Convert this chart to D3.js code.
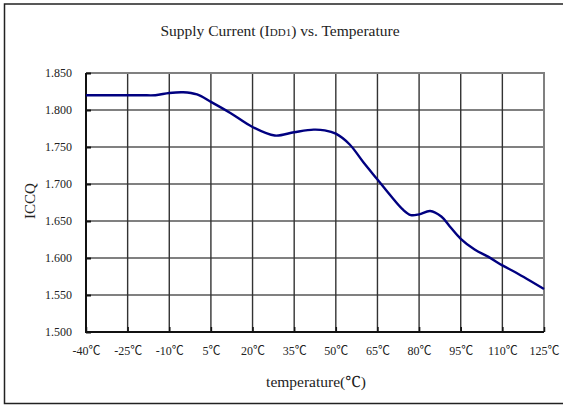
<!DOCTYPE html>
<html>
<head>
<meta charset="utf-8">
<script src="https://cdn.jsdelivr.net/npm/d3@7"></script>
<style>
    body { margin: 0; background: #fff; }
    text { font-family: "Liberation Serif", "Noto Serif", "Noto Sans CJK TC", serif; fill: #222; }
</style>
</head>
<body>
<svg id="mainSvg" width="563" height="406"></svg>
<script>
// data
let temps = [-40, -30, -20, -15, -10, -5, 0, 5, 12, 20, 28, 35, 42, 46, 50, 55, 60, 65, 70, 74, 77, 80, 84, 88, 91, 95, 100, 105, 110, 115, 125];
let iccq = [1.820, 1.820, 1.820, 1.820, 1.823, 1.824, 1.821, 1.811, 1.796, 1.777, 1.7655, 1.770, 1.7735, 1.7725, 1.768, 1.7534, 1.729, 1.706, 1.683, 1.666, 1.658, 1.659, 1.6635, 1.656, 1.643, 1.626, 1.6115, 1.6015, 1.590, 1.580, 1.558];
let xTicks = [-40, -25, -10, 5, 20, 35, 50, 65, 80, 95, 110, 125];
let yTicks = [1.5, 1.55, 1.6, 1.65, 1.7, 1.75, 1.8, 1.85];

let svg = d3.select("#mainSvg");

let plotLeft = 86, plotRight = 544, plotTop = 73, plotBottom = 332;

let x = d3.scaleLinear().domain([-40, 125]).range([plotLeft, plotRight]);
let y = d3.scaleLinear().domain([1.5, 1.85]).range([plotBottom, plotTop]);

// outer frame (right side falls off the picture)
svg.append("path")
    .attr("d", "M565,4 H4.5 V403.5 H565")
    .attr("fill", "none")
    .attr("stroke", "#222")
    .attr("stroke-width", 1.5);

// grid
let grid = svg.append("g");
grid.selectAll(".hg")
    .data(yTicks)
    .join("line")
    .attr("x1", plotLeft).attr("x2", plotRight)
    .attr("y1", (d) => y(d)).attr("y2", (d) => y(d))
    .attr("stroke", "#808080")
    .attr("stroke-width", 1.8);
grid.selectAll(".vg")
    .data(xTicks)
    .join("line")
    .attr("x1", (d) => x(d)).attr("x2", (d) => x(d))
    .attr("y1", plotTop).attr("y2", plotBottom)
    .attr("stroke", "#333")
    .attr("stroke-width", 1.4);

// plot border: top/right gray, left/bottom black
svg.append("path")
    .attr("d", `M${plotLeft},${plotTop} H${plotRight} V${plotBottom}`)
    .attr("fill", "none").attr("stroke", "#808080").attr("stroke-width", 2);
svg.append("path")
    .attr("d", `M${plotLeft},${plotTop} V${plotBottom} H${plotRight}`)
    .attr("fill", "none").attr("stroke", "#111").attr("stroke-width", 2);

// axes with inward ticks
let yAxis = d3.axisLeft(y).tickValues(yTicks).tickSize(-5).tickPadding(14)
    .tickFormat(d3.format(".3f"));
let gy = svg.append("g").attr("transform", `translate(${plotLeft},0)`).call(yAxis);
gy.select(".domain").remove();
gy.selectAll("line").attr("stroke", "#111").attr("stroke-width", 2);
gy.selectAll("text").attr("font-size", 12).attr("fill", "#333")
    .style("font-family", '"Liberation Serif", serif');

let xAxis = d3.axisBottom(x).tickValues(xTicks).tickSize(-5).tickPadding(14)
    .tickFormat((d) => d + "℃");
let gx = svg.append("g").attr("transform", `translate(0,${plotBottom})`).call(xAxis);
gx.select(".domain").remove();
gx.selectAll("line").attr("stroke", "#111").attr("stroke-width", 1.5);
gx.selectAll("text").attr("font-size", 12).attr("fill", "#333")
    .style("font-family", '"Liberation Serif", "Noto Sans CJK TC", serif');

// the curve
let line = d3.line()
    .x((d, i) => x(temps[i]))
    .y((d) => y(d))
    .curve(d3.curveCatmullRom.alpha(0.5));
svg.append("path")
    .datum(iccq)
    .attr("d", line)
    .attr("fill", "none")
    .attr("stroke", "#000080")
    .attr("stroke-width", 2.4);

// title
let title = svg.append("text")
    .attr("x", 280).attr("y", 36)
    .attr("text-anchor", "middle")
    .attr("font-size", 15.5);
title.append("tspan").text("Supply Current (I");
title.append("tspan").attr("font-size", 11).text("DD1");
title.append("tspan").text(") vs. Temperature");

// axis titles
svg.append("text")
    .attr("x", 316).attr("y", 387)
    .attr("text-anchor", "middle")
    .attr("font-size", 15.5)
    .text("temperature(℃)");
svg.append("text")
    .attr("transform", "translate(35,201) rotate(-90)")
    .attr("text-anchor", "middle")
    .attr("font-size", 15)
    .text("ICCQ");
</script>
</body>
</html>
